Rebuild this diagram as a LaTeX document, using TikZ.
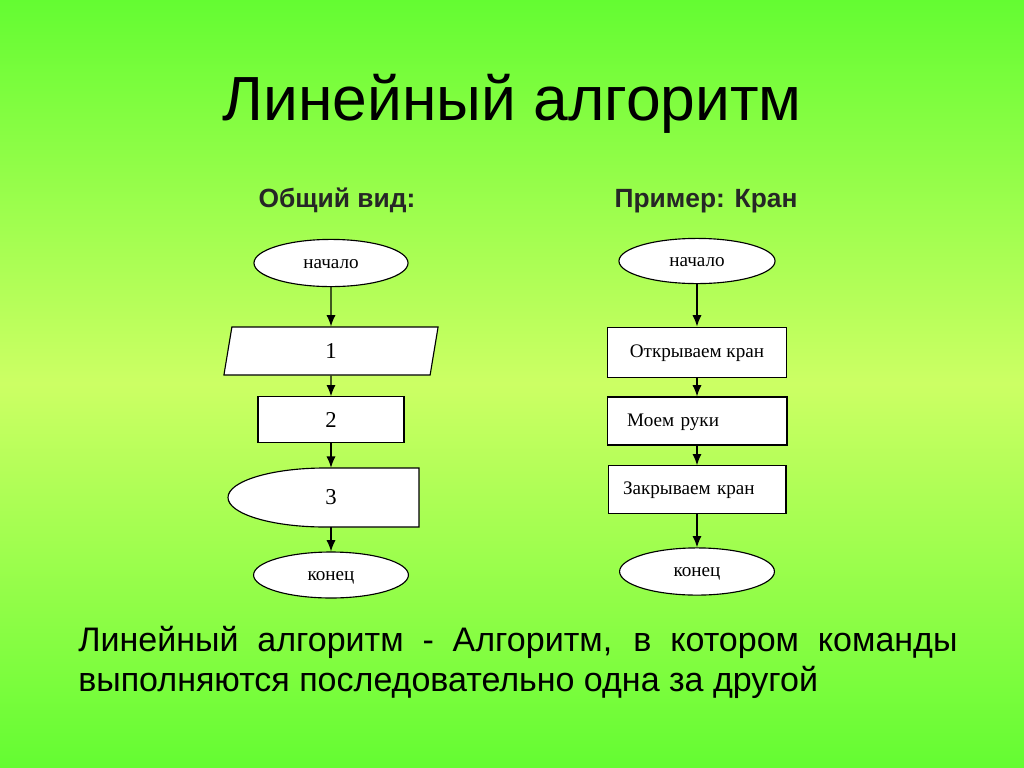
\documentclass[tikz,border=0pt]{standalone}
\usepackage{fontspec}
\setmainfont{Liberation Serif}
\setsansfont{Liberation Sans}
\usetikzlibrary{shapes.geometric,arrows.meta}

\definecolor{bgtop}{RGB}{100,252,50}
\definecolor{bgmid}{RGB}{204,255,100}
\definecolor{bgbot}{RGB}{100,252,50}

\begin{document}
\begin{tikzpicture}%
	[x=0.0248cm, y=-0.0248cm,
	title/.style={font=\sffamily\fontsize{44}{52}\selectfont, anchor=base, inner sep=0pt},
	head/.style={font=\sffamily\bfseries\fontsize{18.6}{22}\selectfont, anchor=base, inner sep=0pt, text=black!85},
	term/.style={ellipse, draw, fill=white, line width=0.8pt, inner sep=0pt, text height=7.6pt, text depth=0pt,
		font=\fontsize{13.5}{15}\selectfont},
	proc/.style={rectangle, draw, fill=white, line width=0.8pt, inner sep=0pt, text height=7.6pt, text depth=0pt,
		font=\fontsize{13.5}{15}\selectfont},
	io/.style={trapezium, trapezium left angle=62, trapezium right angle=118, trapezium stretches body,
		draw, fill=white, line width=0.8pt, inner sep=0pt, font=\fontsize{16}{18}\selectfont},
	num/.style={font=\fontsize{16}{18}\selectfont},
	flow/.style={-{Latex[length=8pt,width=6.5pt]}, line width=1pt}]
%
%% Background
%%
\shade[top color=bgtop, bottom color=bgbot, middle color=bgmid] (0,0) rectangle (1024,767);
\useasboundingbox (0,0) rectangle (1024,767);
%%
%% Headings
%%
\node[title] (title) at (512,120) {Линейный алгоритм};
\node[head] (headA) at (337,207) {Общий вид:};
\node[head] (headB) at (706,207) {Пример: Кран};
%%
%% Left chart: general form
%%
\node[term, minimum width=3.82cm, minimum height=1.17cm] (startA) at (331,263) {начало};
\node[io, minimum width=5.31cm, minimum height=1.19cm] (stepA) at (331,351) {1};
\node[proc, num, text height=, text depth=, minimum width=3.62cm, minimum height=1.12cm] (stepB) at (331,419.5) {2};
\draw[fill=white, line width=0.8pt] (419,468) -- (325,468)
	arc[start angle=270, end angle=90, x radius=97, y radius=29.5] -- (419,527) -- cycle;
\node[num, minimum height=1.46cm, inner sep=0pt] (stepC) at (331,497.5) {3};
\node[term, minimum width=3.84cm, minimum height=1.14cm] (endA) at (331,575) {конец};
%%
\draw[flow] (startA) -- (stepA);
\draw[flow] (stepA) -- (stepB);
\draw[flow] (stepB) -- (stepC);
\draw[flow] (stepC) -- (endA);
%%
%% Right chart: tap example
%%
\node[term, minimum width=3.87cm, minimum height=1.12cm] (startB) at (697,261) {начало};
\node[proc, minimum width=4.44cm, minimum height=1.26cm] (open) at (697,352.5) {Открываем кран};
\node[proc, minimum width=4.46cm, minimum height=1.19cm, text width=3.46cm, inner xsep=0.5cm, align=left] (wash) at (697,421) {Моем руки};
\node[proc, minimum width=4.41cm, minimum height=1.17cm, text width=3.67cm, inner xsep=0.37cm, align=left] (close) at (697,489.5) {Закрываем кран};
\node[term, minimum width=3.84cm, minimum height=1.17cm] (endB) at (697,571.5) {конец};
%%
\draw[flow] (startB) -- (open);
\draw[flow] (open) -- (wash);
\draw[flow] (wash) -- (close);
\draw[flow] (close) -- (endB);
%%
%% Definition
%%
\node[anchor=north west, inner sep=0pt, text width=21.8cm, align=justify,
	font=\sffamily\fontsize{24}{28.5}\selectfont] (defn) at (78,626)
	{Линейный алгоритм - Алгоритм, в котором команды\linebreak выполняются последовательно одна за другой};
%%
\end{tikzpicture}
\end{document}
